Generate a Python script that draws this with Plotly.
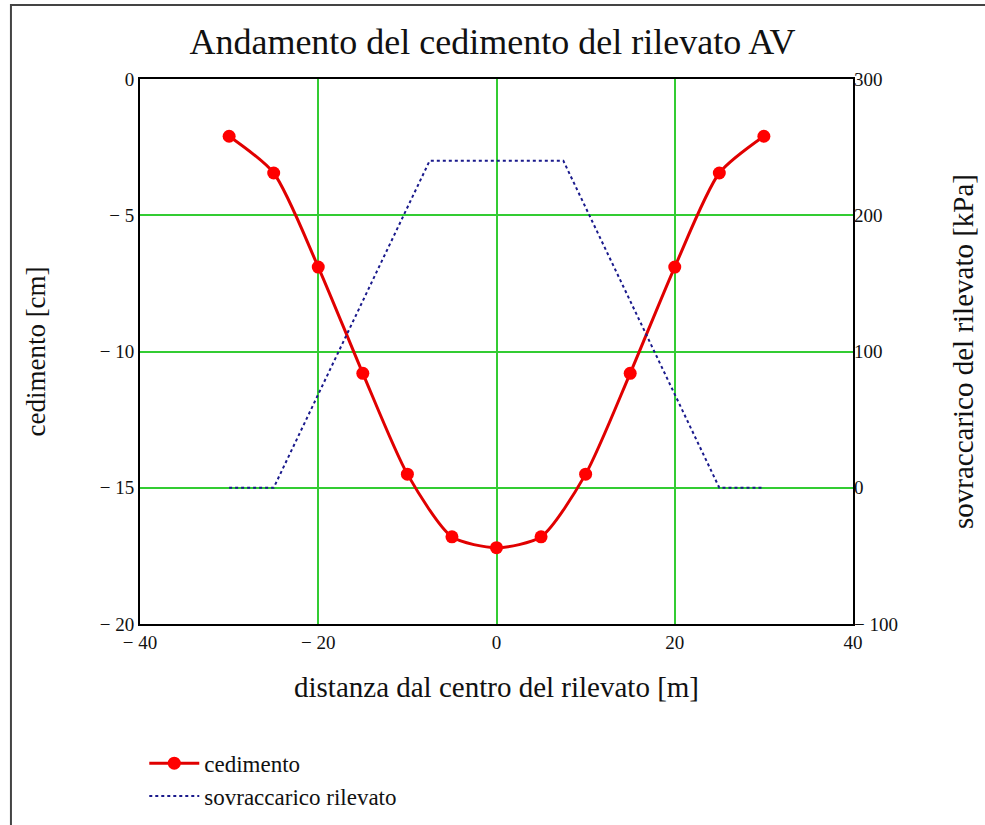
import plotly.graph_objects as go

# cedimento [cm] vs distanza [m]
dist = [-30, -25, -20, -15, -10, -5, 0, 5, 10, 15, 20, 25, 30]
cedimento = [-2.1, -3.45, -6.9, -10.8, -14.5, -16.8, -17.2, -16.8, -14.5, -10.8, -6.9, -3.45, -2.1]

# sovraccarico del rilevato [kPa]
dist_carico = [-30, -25, -7.5, 7.5, 25, 30]
carico = [0, 0, 240, 240, 0, 0]

x_ticks = [-40, -20, 0, 20, 40]
x_labels = ['\u2212 40', '\u2212 20', '0', '20', '40']
y_ticks = [0, -5, -10, -15, -20]
y_labels = ['0', '\u2212 5', '\u2212 10', '\u2212 15', '\u2212 20']
y2_ticks = [300, 200, 100, 0, -100]
y2_labels = ['300', '200', '100', '0', '\u2212 100']

FONT = 'Liberation Serif'
GRID = '#33cc33'

fig = go.Figure()

fig.add_trace(go.Scatter(
    x=dist, y=cedimento,
    mode='lines+markers',
    name='cedimento',
    line=dict(color='#e00000', width=3, shape='spline', smoothing=0.7),
    marker=dict(color='#ff0000', size=13),
))
fig.add_trace(go.Scatter(
    x=dist_carico, y=carico,
    mode='lines',
    name='sovraccarico rilevato',
    line=dict(color='#1a1a8c', width=2, dash='dot'),
    yaxis='y2',
))

fig.update_layout(
    width=985, height=825,
    margin=dict(l=140, r=132, t=79, b=201, autoexpand=False),
    paper_bgcolor='white',
    plot_bgcolor='white',
    font=dict(family=FONT, size=19, color='#111'),
    title=dict(text='Andamento del cedimento del rilevato AV', x=0.5, xanchor='center',
               y=0.95, yanchor='middle', font=dict(size=36, family=FONT, color='#111')),
    showlegend=True,
    legend=dict(x=0.006, xanchor='left', y=-0.216, yanchor='top', font=dict(size=23, family=FONT),
                bgcolor='rgba(0,0,0,0)', tracegroupgap=0, itemwidth=50),
    xaxis=dict(
        range=[-40, 40], tickvals=x_ticks, ticktext=x_labels,
        showgrid=True, gridcolor=GRID, gridwidth=2,
        showline=True, linecolor='black', linewidth=2, mirror=True,
        zeroline=False, ticks='', tickfont=dict(size=19), automargin=False,
        title=dict(text='distanza dal centro del rilevato [m]', font=dict(size=29), standoff=25),
    ),
    yaxis=dict(
        range=[-20, 0], tickvals=y_ticks, ticktext=y_labels,
        showgrid=True, gridcolor=GRID, gridwidth=2,
        showline=True, linecolor='black', linewidth=2, mirror=True,
        zeroline=False, ticks='', tickfont=dict(size=19), automargin=False,
        title=dict(text='cedimento [cm]', font=dict(size=27), standoff=46),
    ),
    yaxis2=dict(
        range=[-100, 300], tickvals=y2_ticks, ticktext=y2_labels,
        overlaying='y', side='right', showgrid=False, zeroline=False,
        showline=False, ticks='', tickfont=dict(size=19), automargin=False,
        title=dict(text='sovraccarico del rilevato [kPa]', font=dict(size=29), standoff=55),
    ),
)

# outer frame (only top and left edges fall inside the picture)
fig.add_shape(type='rect', xref='paper', yref='paper',
              x0=-0.181, x1=1.3, y0=-0.5, y1=1.136,
              line=dict(color='#444', width=2), layer='below')

fig.write_html('out.html', config={'displayModeBar': False},
               post_script="document.body.style.margin='0px';")
